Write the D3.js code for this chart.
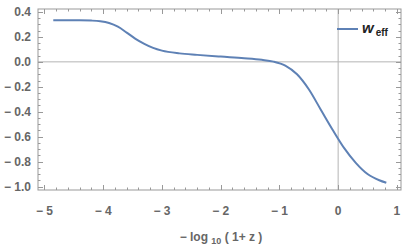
<!DOCTYPE html>
<html>
<head>
<meta charset="utf-8">
<script src="https://cdn.jsdelivr.net/npm/d3@7"></script>
<style>
  body { margin: 0; background: #fff; }
  text { font-family: "Liberation Sans", Arial, sans-serif; }
</style>
</head>
<body>
<svg id="chart"></svg>
<script>
// -log10(1+z) vs w_eff
var xVals = [-4.85, -4.4, -4.2, -4.05, -3.9, -3.75, -3.6, -3.45, -3.3, -3.15, -3.0, -2.7, -2.4, -2.0, -1.6, -1.3, -1.1, -0.9, -0.7, -0.5, -0.3, -0.1, 0.1, 0.3, 0.5, 0.7, 0.82];
var wVals = [0.333, 0.333, 0.331, 0.326, 0.312, 0.282, 0.235, 0.185, 0.145, 0.112, 0.09, 0.068, 0.056, 0.042, 0.029, 0.016, 0.002, -0.03, -0.10, -0.22, -0.38, -0.54, -0.69, -0.81, -0.90, -0.95, -0.97];
var xTicks = [-5, -4, -3, -2, -1, 0, 1];
var yTicks = [0.4, 0.2, 0.0, -0.2, -0.4, -0.6, -0.8, -1.0];
var seriesName = "w";
var seriesSub = "eff";

var width = 407, height = 245;
var mLeft = 38, mRight = 401, mTop = 9, mBottom = 190;
var blue = "#5E81B5", frameCol = "#999", labCol = "#666";

var svg = d3.select("#chart").attr("width", width).attr("height", height);

var x = d3.scaleLinear().domain([-5.11, 1.07]).range([mLeft, mRight]);
var y = d3.scaleLinear().domain([-1.0, 0.4]).range([186.5, 12]);
y.domain([y.invert(mBottom), y.invert(mTop)]);
y.range([mBottom, mTop]);

function fmt(v, d) {
  var s = Math.abs(v).toFixed(d);
  return v < -1e-9 ? "\u2212 " + s : s;
}

// zero axes
svg.append("line").attr("x1", mLeft).attr("x2", mRight).attr("y1", y(0)).attr("y2", y(0))
  .attr("stroke", "#b4b4b4").attr("stroke-width", 1);
svg.append("line").attr("x1", x(0)).attr("x2", x(0)).attr("y1", mTop).attr("y2", mBottom)
  .attr("stroke", "#b4b4b4").attr("stroke-width", 1);

// curve
var pts = xVals.map(function(d, i) { return [d, wVals[i]]; });
svg.append("path").datum(pts)
  .attr("fill", "none").attr("stroke", blue).attr("stroke-width", 2)
  .attr("d", d3.line().x(function(d) { return x(d[0]); }).y(function(d) { return y(d[1]); })
    .curve(d3.curveMonotoneX));

// frame
svg.append("rect").attr("x", mLeft).attr("y", mTop).attr("width", mRight - mLeft).attr("height", mBottom - mTop)
  .attr("fill", "none").attr("stroke", frameCol).attr("stroke-width", 1);

var g = svg.append("g").attr("stroke", frameCol).attr("stroke-width", 1);
// x ticks
d3.range(-5, 1.01, 0.2).forEach(function(v) {
  var major = Math.abs(v - Math.round(v)) < 1e-6;
  var len = major ? 5 : 2.5;
  var px = Math.round(x(v)) + 0.5;
  g.append("line").attr("x1", px).attr("x2", px).attr("y1", mBottom).attr("y2", mBottom - len);
  g.append("line").attr("x1", px).attr("x2", px).attr("y1", mTop).attr("y2", mTop + len);
});
// y ticks
d3.range(-1.0, 0.401, 0.05).forEach(function(v) {
  var major = Math.abs(v * 5 - Math.round(v * 5)) < 1e-6;
  var len = major ? 5 : 2.5;
  var py = Math.round(y(v)) + 0.5;
  g.append("line").attr("x1", mLeft).attr("x2", mLeft + len).attr("y1", py).attr("y2", py);
  g.append("line").attr("x1", mRight).attr("x2", mRight - len).attr("y1", py).attr("y2", py);
});

svg.selectAll(".xl").data(xTicks).enter().append("text")
  .attr("x", function(d) { return x(d); }).attr("y", 215)
  .attr("text-anchor", "middle").attr("fill", labCol)
  .attr("font-size", 12).attr("font-weight", "bold")
  .text(function(d) { return fmt(d, 0); });

svg.selectAll(".yl").data(yTicks).enter().append("text")
  .attr("x", 31).attr("y", function(d) { return y(d) + 4; })
  .attr("text-anchor", "end").attr("fill", labCol)
  .attr("font-size", 12).attr("font-weight", "bold")
  .text(function(d) { return fmt(d, 1); });

// axis title
var t = svg.append("text").attr("x", 221).attr("y", 241).attr("text-anchor", "middle")
  .attr("fill", labCol).attr("font-size", 12).attr("font-weight", "bold");
t.append("tspan").text("\u2212 log ");
t.append("tspan").attr("font-size", 9).attr("dy", 3).text("10");
t.append("tspan").attr("dy", -3).text(" ( 1+ z )");

// legend
svg.append("line").attr("x1", 337).attr("x2", 358).attr("y1", 29).attr("y2", 29)
  .attr("stroke", blue).attr("stroke-width", 2);
var lt = svg.append("text").attr("x", 362).attr("y", 33).attr("fill", "#222")
  .attr("font-size", 15).attr("font-weight", "bold");
lt.append("tspan").attr("font-style", "italic").text(seriesName);
lt.append("tspan").attr("font-size", 10).attr("dy", 3).attr("dx", 2).text(seriesSub);
</script>
</body>
</html>
